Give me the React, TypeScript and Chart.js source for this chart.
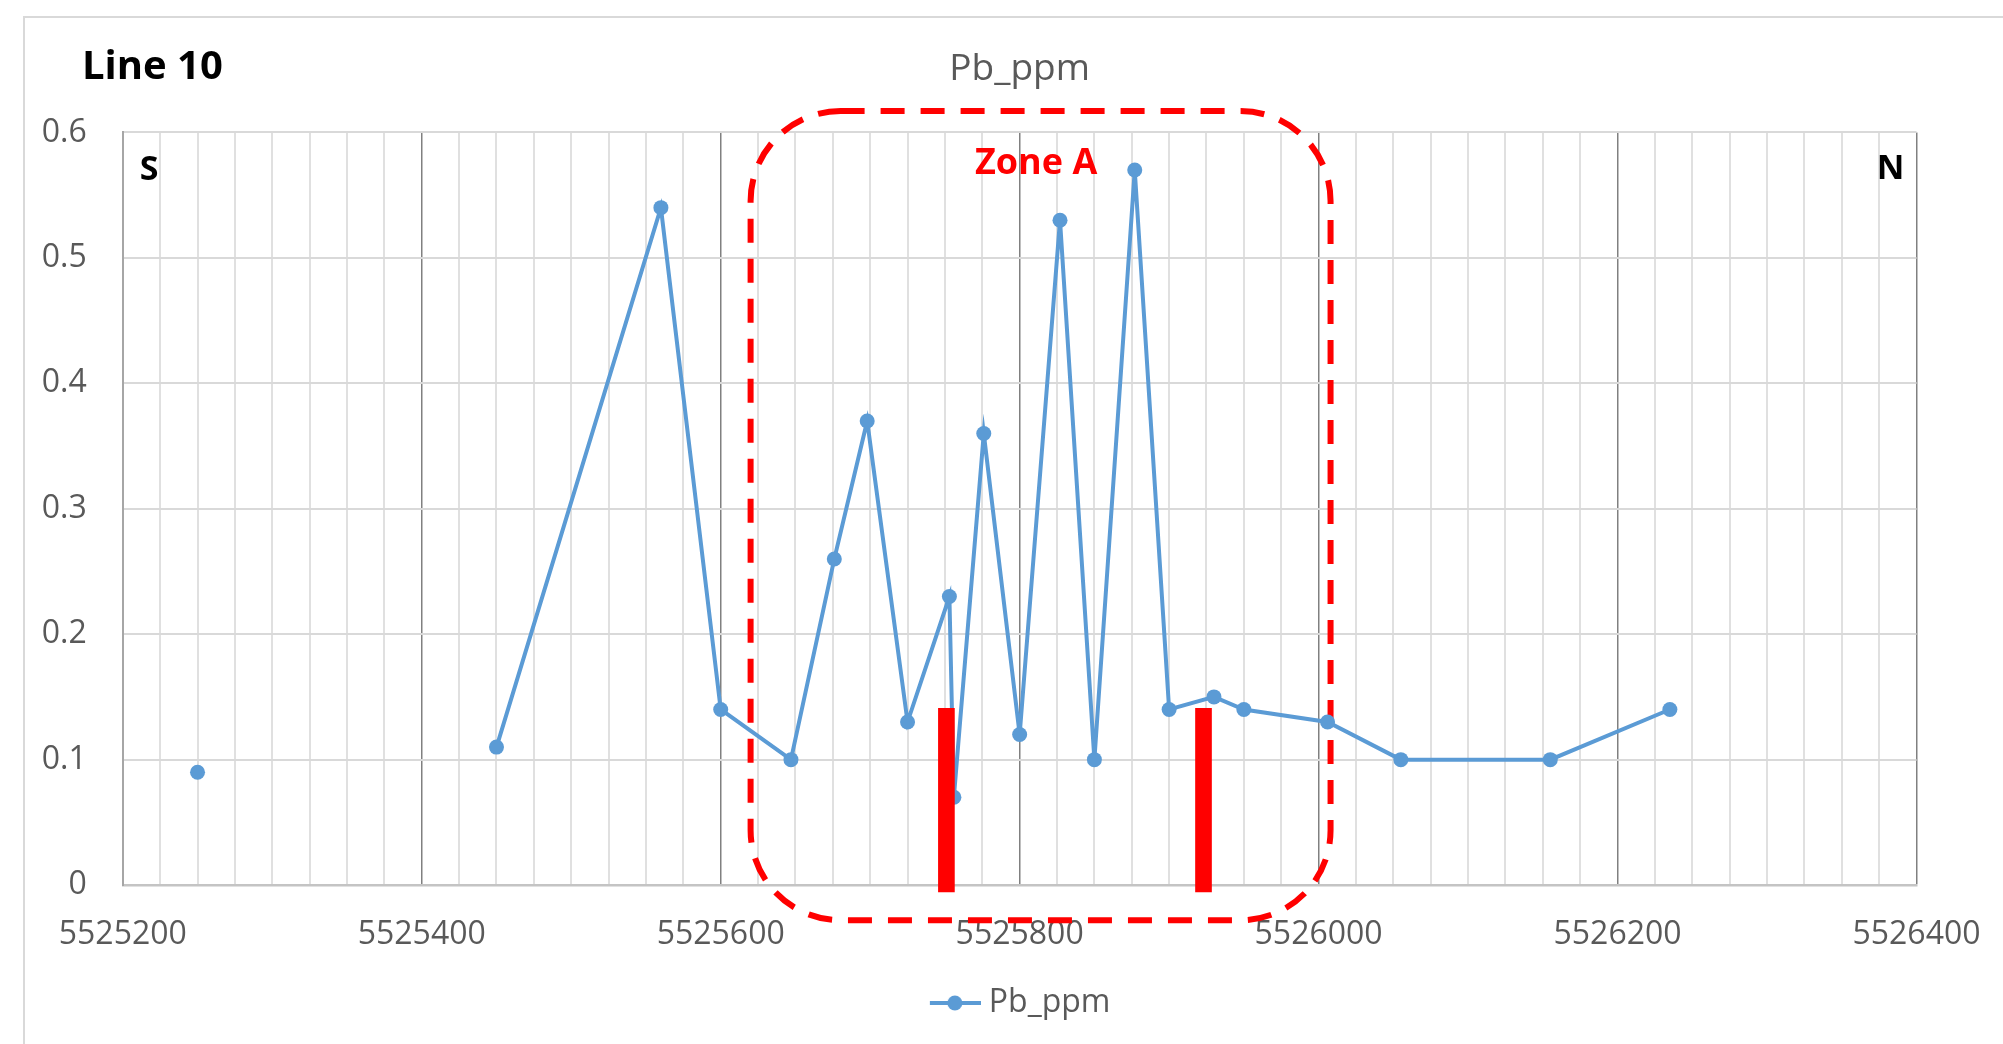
import React, { useEffect, useRef } from 'react';
import { Chart, registerables } from 'chart.js';

Chart.register(...registerables);

// ---- data ----
const northings = [5525250, 5525350, 5525450, 5525560, 5525600, 5525647, 5525676, 5525698, 5525725, 5525753, 5525756, 5525776, 5525800, 5525827, 5525850, 5525877, 5525900, 5525930, 5525950, 5526006, 5526055, 5526155, 5526235];
const pbPpm: (number | null)[] = [0.09, null, 0.11, 0.54, 0.14, 0.10, 0.26, 0.37, 0.13, 0.23, 0.07, 0.36, 0.12, 0.53, 0.10, 0.57, 0.14, 0.15, 0.14, 0.13, 0.10, 0.10, 0.14];

const markerNorthings = [5525751, 5525923];
const markerTops = [0.141, 0.141];
const markerBase = -0.0055;

const xMin = 5525200;
const xMax = 5526400;
const xMinorStep = 25;
const xMajorStep = 200;
const yMin = 0;
const yMax = 0.6;
const yStep = 0.1;

const zoneX = [5525620, 5526008];
const zoneY = [-0.028, 0.617];
const zoneLabel = 'Zone A';
const zoneLabelAt = { x: 5525811, y: 0.567 };

const seriesName = 'Pb_ppm';
const chartTitle = 'Pb_ppm';
const lineLabel = 'Line 10';
const southLabel = 'S';
const northLabel = 'N';

const BLUE = '#5B9BD5';
const FONT = '"Open Sans", "DejaVu Sans", sans-serif';

function makeLegendImage(): HTMLCanvasElement {
  const c = document.createElement('canvas');
  c.width = 60;
  c.height = 16;
  const g = c.getContext('2d')!;
  g.strokeStyle = BLUE;
  g.lineWidth = 4;
  g.beginPath();
  g.moveTo(9, 8);
  g.lineTo(60, 8);
  g.stroke();
  g.fillStyle = BLUE;
  g.beginPath();
  g.arc(34, 8, 7.5, 0, Math.PI * 2);
  g.fill();
  return c;
}

const annotationPlugin = {
  id: 'zoneAnnotations',
  beforeDatasetsDraw(chart: any) {
    const { ctx, scales } = chart;
    const x0 = scales.x.getPixelForValue(zoneX[0]);
    const x1 = scales.x.getPixelForValue(zoneX[1]);
    const y0 = scales.y.getPixelForValue(zoneY[1]);
    const y1 = scales.y.getPixelForValue(zoneY[0]);
    const r = 90;
    ctx.save();
    ctx.strokeStyle = '#FF0000';
    ctx.lineWidth = 6;
    ctx.setLineDash([24, 16]);
    ctx.beginPath();
    ctx.moveTo(x0 + r, y0);
    ctx.lineTo(x1 - r, y0);
    ctx.arcTo(x1, y0, x1, y0 + r, r);
    ctx.lineTo(x1, y1 - r);
    ctx.arcTo(x1, y1, x1 - r, y1, r);
    ctx.lineTo(x0 + r, y1);
    ctx.arcTo(x0, y1, x0, y1 - r, r);
    ctx.lineTo(x0, y0 + r);
    ctx.arcTo(x0, y0, x0 + r, y0, r);
    ctx.closePath();
    ctx.stroke();
    ctx.restore();
  },
  afterDraw(chart: any) {
    const { ctx, chartArea, scales } = chart;
    ctx.save();
    ctx.textBaseline = 'alphabetic';
    ctx.fillStyle = '#000000';
    ctx.textAlign = 'left';
    ctx.font = `bold 40px ${FONT}`;
    ctx.fillText(lineLabel, 82, 79);
    ctx.font = `bold 34px ${FONT}`;
    ctx.fillText(southLabel, chartArea.left + 17, chartArea.top + 48);
    ctx.textAlign = 'right';
    ctx.fillText(northLabel, chartArea.right - 12, chartArea.top + 47);
    ctx.textAlign = 'center';
    ctx.fillStyle = '#FF0000';
    ctx.font = `bold 36px ${FONT}`;
    ctx.fillText(zoneLabel, scales.x.getPixelForValue(zoneLabelAt.x), scales.y.getPixelForValue(zoneLabelAt.y));
    ctx.restore();
  },
};

export default function App() {
  const ref = useRef<HTMLCanvasElement | null>(null);

  useEffect(() => {
    if (!ref.current) return;
    Chart.defaults.font.family = FONT;
    const legendImg = makeLegendImage();
    const linePoints = northings.map((x, i) => ({ x, y: pbPpm[i] }));
    const barPoints = markerNorthings.map((x, i) => ({ x, y: [markerBase, markerTops[i]] }));

    const chart = new Chart(ref.current, {
      type: 'line',
      data: {
        datasets: [
          {
            type: 'bar',
            label: 'markers',
            data: barPoints as any,
            backgroundColor: '#FF0000',
            borderWidth: 0,
            barThickness: 16,
            clip: false as any,
            order: 0,
          } as any,
          {
            type: 'line',
            label: seriesName,
            data: linePoints as any,
            borderColor: BLUE,
            backgroundColor: BLUE,
            borderWidth: 4,
            pointRadius: 7.5,
            pointBorderWidth: 0,
            pointBackgroundColor: BLUE,
            pointBorderColor: BLUE,
            pointHoverRadius: 7.5,
            tension: 0,
            spanGaps: false,
            order: 1,
          },
        ],
      },
      options: {
        animation: false,
        responsive: false,
        devicePixelRatio: 1,
        events: [],
        layout: { padding: { left: 0, right: 86.5, top: 0, bottom: 15 } },
        plugins: {
          title: {
            display: true,
            text: chartTitle,
            fullSize: false,
            color: '#595959',
            font: { size: 37, weight: 'normal', family: FONT },
            padding: { top: 47, bottom: 41 },
          },
          legend: {
            display: true,
            position: 'bottom',
            fullSize: false,
            labels: {
              filter: (item: any) => item.text === seriesName,
              usePointStyle: true,
              pointStyle: legendImg as any,
              pointStyleWidth: 44,
              color: '#595959',
              font: { size: 32, family: FONT },
              padding: 10,
            },
          },
          tooltip: { enabled: false },
        },
        scales: {
          x: {
            type: 'linear',
            min: xMin,
            max: xMax,
            offset: false,
            afterFit: (s: any) => { s.height = 91.9; s.paddingLeft = 0; s.paddingRight = 0; },
            grid: {
              offset: false,
              drawTicks: false,
              color: (c: any) => (c.tick && c.tick.value % xMajorStep === 0 ? '#808080' : '#e0e0e0'),
              lineWidth: (c: any) => (c.tick && c.tick.value % xMajorStep === 0 ? 1.5 : 2),
            },
            border: { display: true, color: '#c4c4c4', width: 2.5 },
            ticks: {
              stepSize: xMinorStep,
              autoSkip: false,
              maxRotation: 0,
              minRotation: 0,
              padding: 31,
              color: '#595959',
              font: { size: 32, family: FONT },
              callback: (v: any) => (Number(v) % xMajorStep === 0 ? String(v) : ''),
            },
          },
          y: {
            type: 'linear',
            min: yMin,
            max: yMax,
            afterFit: (s: any) => { s.width = 122.8; },
            grid: { drawTicks: false, color: '#d9d9d9', lineWidth: 2 },
            border: { display: true, color: '#a6a6a6', width: 2 },
            ticks: {
              stepSize: yStep,
              padding: 36,
              color: '#595959',
              font: { size: 32, family: FONT },
              callback: (v: any) => String(Math.round(Number(v) * 10) / 10),
            },
          },
        },
      },
      plugins: [annotationPlugin],
    } as any);

    return () => chart.destroy();
  }, []);

  return (
    <div style={{ position: 'fixed', left: 0, top: 0, width: 2003, height: 1044, background: '#ffffff', overflow: 'hidden' }}>
      <div style={{ position: 'absolute', left: 23, top: 16, width: 2100, height: 1100, border: '2px solid #d9d9d9' }} />
      <canvas ref={ref} width={2003} height={1044} style={{ position: 'absolute', left: 0, top: 0, width: 2003, height: 1044 }} />
    </div>
  );
}
